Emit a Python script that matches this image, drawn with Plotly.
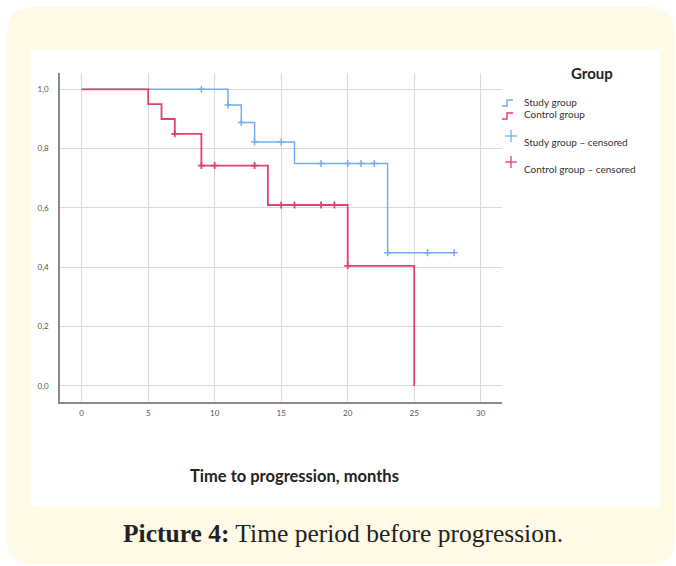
import plotly.graph_objects as go

# ---- data ----
study_times = [0, 11, 12, 13, 16, 23, 28]
study_surv = [1.0, 0.947, 0.888, 0.822, 0.75, 0.449, 0.449]
study_cens_t = [9, 11, 12, 13, 15, 18, 20, 21, 22, 23, 26, 28]
study_cens_s = [1.0, 0.947, 0.888, 0.822, 0.822, 0.75, 0.75, 0.75, 0.75, 0.449, 0.449, 0.449]

control_times = [0, 5, 6, 7, 9, 14, 20, 25]
control_surv = [1.0, 0.95, 0.90, 0.85, 0.743, 0.61, 0.405, 0.0]
control_cens_t = [7, 9, 10, 13, 15, 16, 18, 19, 20]
control_cens_s = [0.85, 0.743, 0.743, 0.743, 0.61, 0.61, 0.61, 0.61, 0.405]

x_ticks = [0, 5, 10, 15, 20, 25, 30]
y_ticks = [0.0, 0.2, 0.4, 0.6, 0.8, 1.0]
y_ticktext = ["0,0", "0,2", "0,4", "0,6", "0,8", "1,0"]

legend_title = "Group"
legend_labels = ["Study group", "Control group", "Study group \u2013 censored", "Control group \u2013 censored"]
x_title = "Time to progression, months"

BLUE = "#76ACEE"
RED = "#E2426C"

W, H = 676, 566
def px(x):
    return x / W
def py(y):
    return 1 - y / H

fig = go.Figure()
fig.add_trace(go.Scatter(x=study_times, y=study_surv, mode="lines", line=dict(color=BLUE, width=1.5, shape="hv"),
                         name=legend_labels[0], showlegend=False, hoverinfo="skip"))
fig.add_trace(go.Scatter(x=control_times, y=control_surv, mode="lines", line=dict(color=RED, width=1.8, shape="hv"),
                         name=legend_labels[1], showlegend=False, hoverinfo="skip"))
fig.add_trace(go.Scatter(x=study_cens_t, y=study_cens_s, mode="markers",
                         marker=dict(symbol="cross-thin", size=5, line=dict(color=BLUE, width=1.5)),
                         name=legend_labels[2], showlegend=False))
fig.add_trace(go.Scatter(x=control_cens_t, y=control_cens_s, mode="markers",
                         marker=dict(symbol="cross-thin", size=5, line=dict(color=RED, width=1.8)),
                         name=legend_labels[3], showlegend=False))

shapes = []
def rounded(x0p, y0p, x1p, y1p, rad):
    def P(x, y):
        return f"{px(x)},{py(y)}"
    return (f"M {P(x0p+rad, y0p)} L {P(x1p-rad, y0p)} Q {P(x1p, y0p)} {P(x1p, y0p+rad)} "
            f"L {P(x1p, y1p-rad)} Q {P(x1p, y1p)} {P(x1p-rad, y1p)} "
            f"L {P(x0p+rad, y1p)} Q {P(x0p, y1p)} {P(x0p, y1p-rad)} "
            f"L {P(x0p, y0p+rad)} Q {P(x0p, y0p)} {P(x0p+rad, y0p)} Z")
shapes.append(dict(type="path", xref="paper", yref="paper", path=rounded(7, 7, 675, 564, 26),
                   fillcolor="#FFFAE6", line=dict(width=0), layer="below"))
shapes.append(dict(type="rect", xref="paper", yref="paper", x0=px(31), x1=px(660), y0=py(507), y1=py(50),
                   fillcolor="white", line=dict(width=0), layer="below"))

# legend icons
def step_icon(yc, color):
    return dict(type="path", xref="paper", yref="paper",
                path=f"M {px(502)},{py(yc+3)} L {px(507)},{py(yc+3)} L {px(507)},{py(yc-3)} L {px(513)},{py(yc-3)}",
                line=dict(color=color, width=1.5))
shapes.append(step_icon(103, BLUE))
shapes.append(step_icon(116, RED))
def plus_icon(xc, yc, color):
    return [dict(type="line", xref="paper", yref="paper", x0=px(xc-6), x1=px(xc+6), y0=py(yc), y1=py(yc),
                 line=dict(color=color, width=1.3)),
            dict(type="line", xref="paper", yref="paper", x0=px(xc), x1=px(xc), y0=py(yc-6), y1=py(yc+6),
                 line=dict(color=color, width=1.3))]
shapes += plus_icon(511, 136, BLUE)
shapes += plus_icon(511, 162, RED)

annotations = []
annotations.append(dict(x=px(592), y=py(73), xref="paper", yref="paper", text=f"<b>{legend_title}</b>",
                        xanchor="center", yanchor="middle",
                        showarrow=False, font=dict(family="Lato", size=15, color="#222")))
for lbl, yc in zip(legend_labels, [102, 114, 142, 169]):
    annotations.append(dict(x=px(522), y=py(yc), xref="paper", yref="paper", text=lbl,
                            xanchor="left", yanchor="middle",
                            showarrow=False, font=dict(family="Lato", size=10, color="#333")))
annotations.append(dict(x=px(294), y=py(476), xref="paper", yref="paper", text=f"<b>{x_title}</b>",
                        xanchor="center", yanchor="middle",
                        showarrow=False, font=dict(family="Lato", size=16.5, color="#222")))
annotations.append(dict(x=px(343), y=py(533), xref="paper", yref="paper",
                        text="<b>Picture 4:</b> Time period before progression.",
                        xanchor="center", yanchor="middle",
                        showarrow=False, font=dict(family="Liberation Serif", size=25.5, color="#222")))

fig.update_layout(
    width=W, height=H, margin=dict(l=0, r=0, t=0, b=0),
    paper_bgcolor="white", plot_bgcolor="rgba(0,0,0,0)",
    shapes=shapes, annotations=annotations, showlegend=False,
    xaxis=dict(domain=[px(60), px(502)], range=[-1.63, 31.6], tickvals=x_ticks, showgrid=True,
               gridcolor="#D9D9D9", gridwidth=1.2, zeroline=False, showline=True, linecolor="#8A8A8A",
               linewidth=1.5, ticks="", tickfont=dict(family="Lato", size=8, color="#555"), ticklabelstandoff=3),
    yaxis=dict(domain=[py(402), py(73)], range=[-0.054, 1.055], tickvals=y_ticks, ticktext=y_ticktext,
               showgrid=True, gridcolor="#D9D9D9", gridwidth=1.2, zeroline=False, showline=True,
               linecolor="#8A8A8A", linewidth=1.5, ticks="", tickfont=dict(family="Lato", size=8, color="#555"),
               ticklabelstandoff=8),
)

fig.write_html("out.html", config={"displayModeBar": False},
               post_script="document.body.style.margin='0';")
